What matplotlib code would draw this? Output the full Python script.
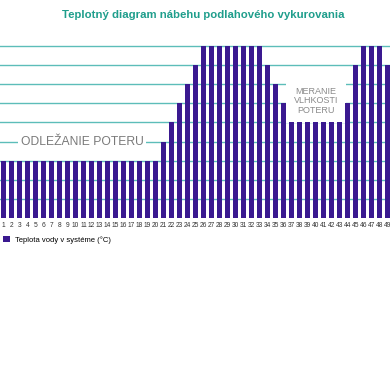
import numpy as np
import matplotlib.pyplot as plt
from matplotlib.patches import Patch

plt.rcParams['font.family'] = ['Liberation Sans', 'DejaVu Sans']

days = list(range(1, 50))
temps = [25] * 20 + [30, 35, 40, 45, 50] + [55] * 8 + [50, 45, 40] + [35] * 7 + [40, 50, 55, 55, 55, 50]
grid_levels = [15, 20, 25, 30, 35, 40, 45, 50, 55]

title = 'Teplotný diagram nábehu podlahového vykurovania'
label_left = 'ODLEŽANIE POTERU'
label_right = 'MERANIE\nVLHKOSTI\nPOTERU'
legend_text = 'Teplota vody v systéme (°C)'

bar_color = '#3a1990'
grid_color = '#5cbdb9'
teal = '#1f9e8c'

fig = plt.figure(figsize=(3.9, 3.9), dpi=100)
ax = fig.add_axes([0, 1 - 218 / 390, 1, 172 / 390])

for g in grid_levels:
    ax.axhline(g, color=grid_color, lw=1, zorder=0, clip_on=False)

ax.bar(days, temps, width=0.55, color=bar_color, zorder=3)

ax.set_xlim(0.5625, 49.3125)
ax.set_ylim(10, 55)
ax.set_xticks(days)
ax.set_xticklabels([str(d) for d in days], fontsize=4.8, color='#333333')
ax.tick_params(axis='x', length=0, pad=3)
ax.set_yticks([])
for s in ax.spines.values():
    s.set_visible(False)

ax.text(10.8, 30, label_left, ha='center', va='center', fontsize=8.7, color='#7a7a7a',
        bbox=dict(boxstyle='square,pad=0.2', fc='white', ec='none'), zorder=2)
ax.text(40.06, 40.7, label_right, ha='center', va='center', fontsize=6.5, color='#8a8a8a',
        linespacing=1.05,
        bbox=dict(boxstyle='square,pad=0.9', fc='white', ec='none'), zorder=2)

fig.text(0.52, 1 - 15 / 390, title, ha='center', va='center', fontsize=8.2,
         fontweight='bold', color=teal)

handles = [Patch(facecolor=bar_color, edgecolor='none', label=legend_text)]
fig.legend(handles=handles, loc='center left', bbox_to_anchor=(0.004, 1 - 240 / 390),
           frameon=False, fontsize=5.5, handlelength=0.9, handleheight=0.9,
           handletextpad=0.6, borderaxespad=0, borderpad=0.2)

fig.savefig('out.png', dpi=100, facecolor='white')
